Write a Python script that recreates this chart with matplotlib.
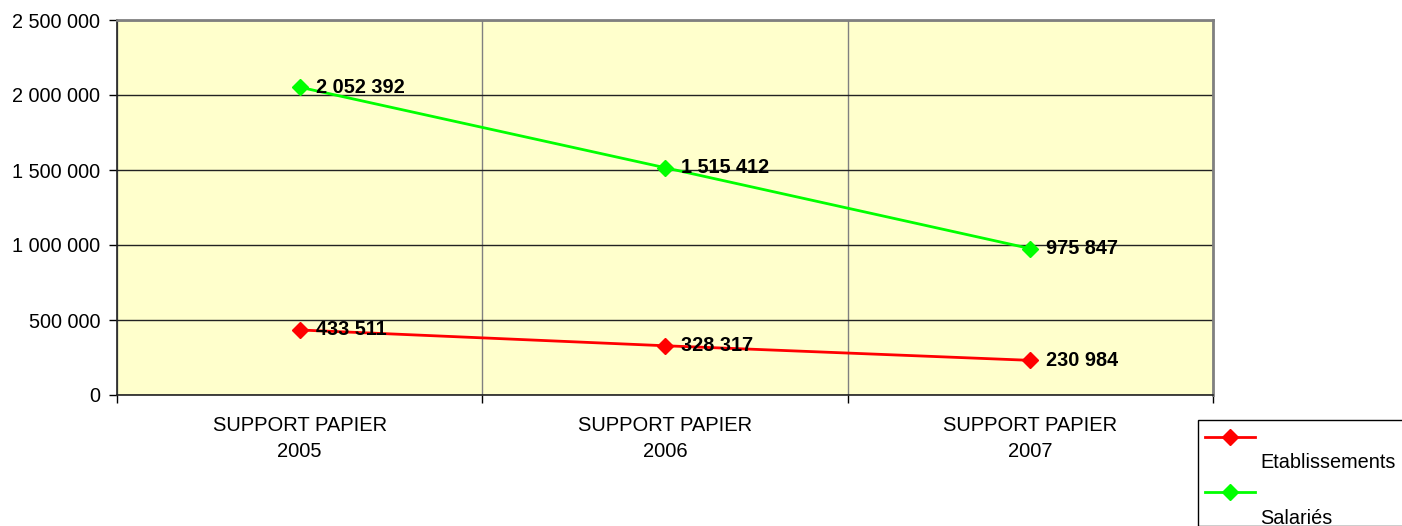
import numpy as np
import matplotlib.pyplot as plt
from matplotlib.lines import Line2D
from matplotlib.patches import Rectangle

categories = ["SUPPORT PAPIER\n2005", "SUPPORT PAPIER\n2006", "SUPPORT PAPIER\n2007"]
etablissements = [433511, 328317, 230984]
salaries = [2052392, 1515412, 975847]
series_names = ["Etablissements", "Salariés"]
series_colors = ["#FF0000", "#00FF00"]
yticks = [0, 500000, 1000000, 1500000, 2000000, 2500000]


def fmt(v):
    return f"{v:,}".replace(",", " ")


plt.rcParams['font.family'] = ['Liberation Sans', 'DejaVu Sans']
plt.rcParams['font.size'] = 14

fig = plt.figure(figsize=(14.02, 5.26), dpi=100)
ax = fig.add_axes((117 / 1402, 1 - 395 / 526, 1096 / 1402, 375 / 526))
ax.set_facecolor("#FFFFCC")

x = np.arange(len(categories))
for vals, color in zip([etablissements, salaries], series_colors):
    ax.plot(x, vals, color=color, lw=2, marker="D", ms=8, mec=color, mfc=color, zorder=3)
    for xi, v in zip(x, vals):
        ax.annotate(fmt(v), (xi, v), xytext=(11.5, 0), textcoords="offset points",
                    ha="left", va="center", fontsize=14.3, fontweight="bold", zorder=4)

ax.set_xlim(-0.5, len(categories) - 0.5)
ax.set_ylim(0, 2500000)
ax.set_yticks(yticks)
ax.set_yticklabels([fmt(v) for v in yticks], fontsize=14.3)
ax.yaxis.grid(True, color="#222222", lw=1)

# ticks at category boundaries, labels at category centres
ax.set_xticks(np.arange(-0.5, len(categories), 1.0))
ax.set_xticklabels([])
ax.set_xticks(x, minor=True)
ax.set_xticklabels(categories, minor=True, fontsize=14.5, linespacing=1.45)
ax.tick_params(axis="x", which="minor", length=0, pad=15)
ax.tick_params(axis="x", which="major", length=6, width=1, direction="out")
ax.tick_params(axis="y", length=6, width=1, direction="out", pad=6)
ax.xaxis.grid(True, which="major", color="#808080", lw=1)
ax.set_axisbelow(True)

for side in ["top", "right"]:
    ax.spines[side].set_color("#808080")
    ax.spines[side].set_linewidth(2)
for side in ["left", "bottom"]:
    ax.spines[side].set_color("#222222")
    ax.spines[side].set_linewidth(1.2)

# legend drawn by hand: marker line above, name below
fig.add_artist(Rectangle((1198 / 1402, 0), 0.2, 106 / 526, transform=fig.transFigure,
                         fc="white", ec="black", lw=1))
for i, (name, color) in enumerate(zip(series_names, series_colors)):
    yl = 1 - (437 + 55 * i) / 526
    fig.add_artist(Line2D([1205 / 1402, 1255 / 1402], [yl, yl], transform=fig.transFigure,
                          color=color, lw=2))
    fig.add_artist(Line2D([1230 / 1402], [yl], transform=fig.transFigure, color=color,
                          marker="D", ms=8, mec=color, mfc=color))
    fig.text(1260 / 1402, 1 - (463 + 55 * i) / 526, name, ha="left", va="center", fontsize=14.3)

fig.savefig("out.png", dpi=100)
